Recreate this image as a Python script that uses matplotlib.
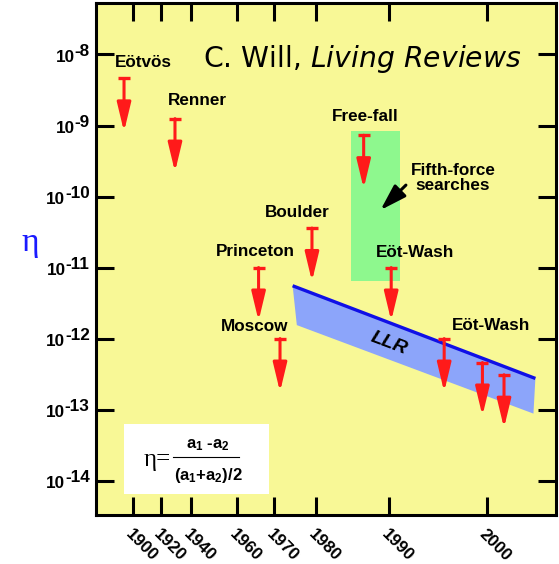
import numpy as np
import matplotlib
matplotlib.use("Agg")
import matplotlib.pyplot as plt
from matplotlib.patches import Rectangle
from matplotlib.lines import Line2D
from matplotlib.ticker import FixedLocator, NullLocator, NullFormatter

plt.rcParams["mathtext.default"] = "regular"
plt.rcParams["mathtext.fontset"] = "custom"
plt.rcParams["mathtext.rm"] = "DejaVu Sans"
plt.rcParams["mathtext.it"] = "DejaVu Sans:italic"

# ---- data -------------------------------------------------------------
# upper limits on eta from individual experiments
arrow_years = [1893.6, 1929.3, 1965.8, 1971.4, 1979.0, 1986.5, 1990.2, 1995.6, 1999.5, 2001.7]
eta_limits = [4.6e-9, 1.25e-9, 1.0e-11, 1.0e-12, 3.6e-11, 7.3e-10, 1.0e-11, 1.0e-12, 4.6e-13, 3.1e-13]
arrow_labels = ["Eötvös", "Renner", "Princeton", "Moscow", "Boulder",
                "Free-fall", "Eöt-Wash", "Eöt-Wash", "", ""]

# lunar laser ranging band (upper edge, then lower edge)
llr_top_years = [1974.4, 2004.9]
llr_top_eta = [5.55e-12, 2.75e-13]
llr_bottom_years = [2004.7, 1975.4]
llr_bottom_eta = [8.8e-14, 1.55e-12]

# fifth-force search region
fifth_years = [1984.8, 1991.05]
fifth_eta = [6.4e-12, 8.4e-10]

# time axis: tick years and the (non-uniform) spacing used for them
tick_years = [1900, 1920, 1940, 1960, 1970, 1980, 1990, 2000]
tick_spacing = [0, 28, 58, 104, 141, 183, 256, 354]
year_range = (1873.6, 2007.0)
decades = list(range(-14, -7))

# ---- style ------------------------------------------------------------
BG = "#F8F896"
RED = "#FF1A1A"
GREEN = "#8EF88E"
BAND = "#8CA5FA"
LINE_BLUE = "#1010E6"
LABEL_FONT = dict(family="Liberation Sans", weight="bold", size=12.3)
ARROW_DECADES = 0.75

YR = np.array(tick_years, float)
POS = np.array(tick_spacing, float)


def _extrap(x, xs, ys):
    x = np.asarray(x, float)
    out = np.interp(x, xs, ys)
    lo_slope = (ys[1] - ys[0]) / (xs[1] - xs[0])
    hi_slope = (ys[-1] - ys[-2]) / (xs[-1] - xs[-2])
    out = np.where(x < xs[0], ys[0] + (x - xs[0]) * lo_slope, out)
    out = np.where(x > xs[-1], ys[-1] + (x - xs[-1]) * hi_slope, out)
    return out


def year_to_pos(x):
    return _extrap(x, YR, POS)


def pos_to_year(p):
    return _extrap(p, POS, YR)


fig = plt.figure(figsize=(5.59, 5.64), dpi=100)
ax = fig.add_axes([96 / 559, 49 / 564, 460 / 559, 512 / 564])
ax.set_facecolor(BG)
ax.set_xscale("function", functions=(year_to_pos, pos_to_year))
ax.set_yscale("log")
ax.set_xlim(*year_range)
ax.set_ylim(10 ** -14.483, 10 ** -7.275)

# fifth-force region
ax.fill([fifth_years[0], fifth_years[1], fifth_years[1], fifth_years[0]],
        [fifth_eta[0], fifth_eta[0], fifth_eta[1], fifth_eta[1]],
        color=GREEN, lw=0, zorder=1)

# LLR band with its upper edge
ax.fill(llr_top_years + llr_bottom_years, llr_top_eta + llr_bottom_eta,
        color=BAND, lw=0, zorder=2)
ax.plot(llr_top_years, llr_top_eta, color=LINE_BLUE, lw=2.4,
        solid_capstyle="butt", zorder=3)
ax.text(1990.0, 8.6e-13, "LLR", rotation=-20.7, ha="center", va="center",
        family="Liberation Sans", weight="bold", style="italic", size=14,
        rotation_mode="anchor", zorder=4)

# upper-limit arrows
label_offsets = [(13.7, 11.5), (15.8, 13.0), (-2.0, 11.5), (-18.0, 8.6),
                 (-10.8, 11.5), (1.4, 13.7), (17.3, 10.8), (33.8, 9.4),
                 (0, 0), (0, 0)]
for yr, lim, lab, off in zip(arrow_years, eta_limits, arrow_labels, label_offsets):
    tip = lim / 10 ** ARROW_DECADES
    ax.annotate("", xy=(yr, tip), xytext=(yr, lim),
                arrowprops=dict(arrowstyle="-|>,head_length=1.75,head_width=0.42",
                                color=RED, lw=2.2, shrinkA=0, shrinkB=0,
                                mutation_scale=10), zorder=5)
    ax.plot([yr], [lim], marker="_", ms=9, mew=2.4, color=RED, zorder=5)
    if lab:
        ax.annotate(lab, xy=(yr, lim), xytext=off, textcoords="offset points",
                    ha="center", va="center", zorder=6, **LABEL_FONT)

# fifth-force pointer
ax.annotate("", xy=(1988.8, 6.45e-11), xytext=(1991.7, 1.45e-10),
            arrowprops=dict(arrowstyle="-|>,head_length=1.6,head_width=0.5",
                            color="black", lw=2.2, shrinkA=0, shrinkB=0,
                            mutation_scale=10), zorder=6)
ax.text(1996.5, 1.82e-10, "Fifth-force\nsearches", ha="center", va="center",
        linespacing=1.0, zorder=6, **LABEL_FONT)

# title
ax.text(0.2326, 0.8756, r"C. Will, $\mathit{Living\ Reviews}$", transform=ax.transAxes,
        ha="left", va="baseline", family="DejaVu Sans", size=20.3, zorder=6)

# definition box
ax.add_patch(Rectangle((0.0609, 0.041), 0.3145, 0.1367, transform=ax.transAxes,
                       facecolor="white", edgecolor="none", zorder=6))
ax.text(0.1337, 0.1074, "η=", transform=ax.transAxes, ha="center", va="center",
        family="Liberation Serif", size=18, zorder=7)
ax.text(0.2435, 0.1367, "a$_1$ -a$_2$", transform=ax.transAxes, ha="center",
        va="center", family="Liberation Sans", weight="bold", size=12, zorder=7)
ax.text(0.2446, 0.0781, "(a$_1$+a$_2$)/2", transform=ax.transAxes, ha="center",
        va="center", family="Liberation Sans", weight="bold", size=12, zorder=7)
ax.add_line(Line2D([0.1674, 0.3109], [0.1139, 0.1139], transform=ax.transAxes,
                   color="black", lw=0.8, zorder=7))

# axes frame and ticks
for sp in ax.spines.values():
    sp.set_linewidth(2.2)
ax.xaxis.set_major_locator(FixedLocator(tick_years))
ax.xaxis.set_minor_locator(NullLocator())
ax.yaxis.set_major_locator(FixedLocator([10.0 ** d for d in decades]))
ax.yaxis.set_minor_locator(NullLocator())
ax.yaxis.set_major_formatter(NullFormatter())
ax.tick_params(axis="both", which="major", direction="in", length=13, width=2.2,
               top=True, right=True)
ax.tick_params(axis="x", pad=8)
ax.set_xticklabels([str(y) for y in tick_years], rotation=-45, ha="left", va="top",
                   rotation_mode="anchor", family="Liberation Sans",
                   weight="bold", size=12.3)

# decade labels with a full-size raised exponent
for d in decades:
    ex = ax.annotate(str(d), xy=(0, 10.0 ** d), xycoords=("axes fraction", "data"),
                     xytext=(-4.5, 2.2), textcoords="offset points", ha="right",
                     va="center", family="Liberation Sans", weight="bold", size=12.3,
                     annotation_clip=False)
    ax.annotate("10", xy=(0, 0.5), xycoords=ex, xytext=(0, -4.5),
                textcoords="offset points", ha="right", va="center",
                family="Liberation Sans", weight="bold", size=12.3,
                annotation_clip=False)

fig.text(30 / 559, 1 - 243 / 564, "η", color="#1A1AFF", ha="center", va="center",
         family="Liberation Serif", size=24)

fig.savefig("out.png", dpi=100, facecolor="white")
